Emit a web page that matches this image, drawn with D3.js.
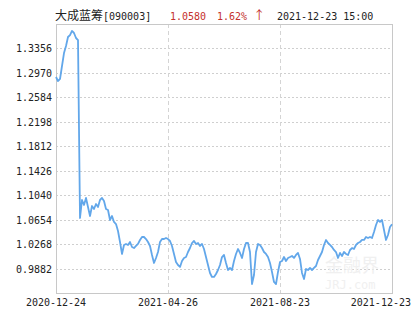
<!DOCTYPE html>
<html lang=zh>
<meta charset=utf-8>
<title>大成蓝筹[090003]</title>
<style>
  body { margin: 0; background: #fff; }
  text { font-family: "DejaVu Sans Mono", monospace; font-size: 10px; fill: #222; }
</style>
<svg id=chart width=415 height=330></svg>
<script src=https://cdn.jsdelivr.net/npm/d3@7/dist/d3.min.js></script>
<script>
// 基金信息
var fundName = "大成蓝筹", fundCode = "[090003]";
var lastValue = "1.0580", lastChange = "1.62%", lastArrow = "↑", lastTime = "2021-12-23 15:00";

// 横轴标签（按交易日序号等分）
var dateLabels = ["2020-12-24", "2021-04-26", "2021-08-23", "2021-12-23"];
var dateIndex = [0, 56, 112, 168];

// 纵轴刻度
var yTicks = [0.9882, 1.0268, 1.0654, 1.1040, 1.1426, 1.1812, 1.2198, 1.2584, 1.2970, 1.3356];
var yDomain = [0.9496, 1.3742];

// 单位净值
var values = [
  1.2905, 1.2842, 1.2874, 1.3079, 1.3284, 1.3395, 1.3537, 1.3568, 1.3632, 1.3600,
  1.3521, 1.3489, 1.0680, 1.0964, 1.0885, 1.0996, 1.0854, 1.0712, 1.0869, 1.0822,
  1.0901, 1.0854, 1.0964, 1.0996, 1.0948, 1.0822, 1.0806, 1.0648, 1.0712, 1.0617,
  1.0585, 1.0475, 1.0301, 1.0112, 1.0254, 1.0270, 1.0254, 1.0301, 1.0222, 1.0206,
  1.0238, 1.0270, 1.0333, 1.0380, 1.0380, 1.0348, 1.0301, 1.0238, 1.0096, 0.9970,
  1.0049, 1.0143, 1.0301, 1.0348, 1.0348, 1.0364, 1.0348, 1.0317, 1.0238, 1.0112,
  0.9985, 0.9938, 0.9907, 1.0001, 1.0049, 1.0064, 1.0143, 1.0206, 1.0285, 1.0317,
  1.0270, 1.0285, 1.0238, 1.0270, 1.0191, 1.0064, 0.9938, 0.9812, 0.9749, 0.9749,
  0.9796, 0.9859, 0.9938, 1.0064, 1.0096, 0.9970, 0.9859, 0.9891, 0.9859, 1.0001,
  1.0112, 1.0191, 1.0128, 1.0049, 1.0191, 1.0285, 1.0285, 1.0143, 0.9638, 0.9780,
  1.0143, 1.0270, 1.0254, 1.0206, 1.0143, 1.0112, 1.0064, 0.9970, 0.9828, 0.9670,
  0.9638, 0.9828, 0.9985, 1.0001, 1.0064, 1.0001, 1.0049, 1.0064, 1.0080, 1.0049,
  1.0096, 1.0128, 1.0033, 0.9812, 0.9717, 0.9875, 0.9859, 0.9891, 0.9859, 0.9891,
  0.9922, 1.0017, 1.0080, 1.0143, 1.0254, 1.0333, 1.0285, 1.0254, 1.0222, 1.0175,
  1.0143, 1.0049, 1.0128, 1.0080, 1.0143, 1.0112, 1.0096, 1.0175, 1.0206, 1.0191,
  1.0254, 1.0285, 1.0301, 1.0333, 1.0333, 1.0380, 1.0364, 1.0380, 1.0364, 1.0459,
  1.0569, 1.0648, 1.0617, 1.0648, 1.0491, 1.0333, 1.0412, 1.0538, 1.0580
];

var svg = d3.select("#chart");
var plotL = 56, plotT = 24, plotR = 392, plotB = 293;

var x = d3.scaleLinear().domain([0, values.length - 1]).range([plotL, plotR]);
var y = d3.scaleLinear().domain(yDomain).range([plotB, plotT]);

// 标题
var title = svg.append("text").attr("x", 55).attr("y", 20);
title.append("tspan").style("font-family", "'Noto Sans CJK SC'").style("font-size", "12px").text(fundName);
title.append("tspan").text(fundCode);
svg.append("text").attr("x", 170).attr("y", 20).style("fill", "#c4302b").text(lastValue);
var chg = svg.append("text").attr("x", 217).attr("y", 20).style("fill", "#c4302b");
chg.append("tspan").text(lastChange + " ");
chg.append("tspan").style("font-family", "'Noto Sans CJK SC'").style("font-size", "12px")
    .style("fill", "#c4302b").text(lastArrow);
svg.append("text").attr("x", 277).attr("y", 20).text(lastTime);

// 水平网格
svg.append("g").selectAll("line").data(yTicks).enter().append("line")
    .attr("x1", plotL).attr("x2", plotR)
    .attr("y1", function (d) { return Math.round(y(d)) + 0.5; })
    .attr("y2", function (d) { return Math.round(y(d)) + 0.5; })
    .attr("stroke", "#cfcfcf").attr("stroke-dasharray", "2,2");

// 垂直网格
svg.append("g").selectAll("line").data(dateIndex.slice(1, 3)).enter().append("line")
    .attr("x1", function (d) { return Math.round(x(d)) + 0.5; })
    .attr("x2", function (d) { return Math.round(x(d)) + 0.5; })
    .attr("y1", plotT).attr("y2", plotB)
    .attr("stroke", "#d4d4d4").attr("stroke-dasharray", "4,3");

// 边框
svg.append("rect").attr("x", plotL + 0.5).attr("y", plotT + 0.5)
    .attr("width", plotR - plotL).attr("height", plotB - plotT)
    .attr("fill", "none").attr("stroke", "#c8c8c8");

// 水印
svg.append("text").attr("x", 325).attr("y", 272)
    .style("font-family", "'Noto Sans CJK SC'").style("font-size", "18px").style("fill", "#f0f0f0")
    .text("金融界");
svg.append("text").attr("x", 325).attr("y", 289)
    .style("font-size", "12px").style("fill", "#f0f0f0").text("JRJ.com");

// 纵轴标签
svg.append("g").selectAll("text").data(yTicks).enter().append("text")
    .attr("x", 52).attr("y", function (d) { return y(d) + 4; })
    .attr("text-anchor", "end")
    .text(function (d) { return d.toFixed(4); });

// 横轴标签
svg.append("g").selectAll("text").data(dateLabels).enter().append("text")
    .attr("x", function (d, i) { return i == 3 ? 411 : x(dateIndex[i]); })
    .attr("y", 306)
    .attr("text-anchor", function (d, i) { return i == 3 ? "end" : "middle"; })
    .text(function (d) { return d; });

// 净值曲线
var line = d3.line()
    .x(function (d, i) { return x(i); })
    .y(function (d) { return y(d); });

svg.append("path").datum(values)
    .attr("fill", "none").attr("stroke", "#62a7ea").attr("stroke-width", 1.8)
    .attr("stroke-linejoin", "round")
    .attr("d", line);
</script>
